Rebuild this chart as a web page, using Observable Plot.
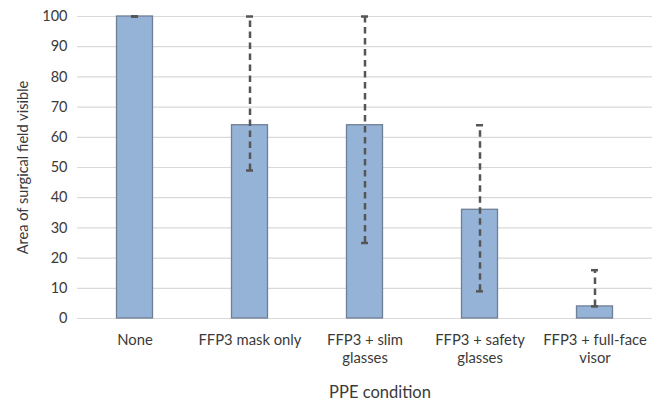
<!DOCTYPE html>
<html>
<head>
<meta charset="utf-8">
<script src="https://cdn.jsdelivr.net/npm/d3@7"></script>
<script src="https://cdn.jsdelivr.net/npm/@observablehq/plot@0.6"></script>
<style>
  html, body { margin: 0; padding: 0; background: #fff; }
  #chart svg { display: block; }
  #chart g[aria-label="y-axis label"] text { font-size: 14.6px; }
  #chart g[aria-label="x-axis label"] text { font-size: 16.5px; }
</style>
</head>
<body>
<div id="chart"></div>
<script>
const categories = ["None", "FFP3 mask only", "FFP3 + slim\nglasses", "FFP3 + safety\nglasses", "FFP3 + full-face\nvisor"];
const values = [100, 64, 64, 36, 4];
const lower = [100, 49, 25, 9, 4];
const upper = [100, 100, 100, 64, 16];
const yTicks = [0, 10, 20, 30, 40, 50, 60, 70, 80, 90, 100];

const data = categories.map((c, i) => ({cat: c, v: values[i], lo: lower[i], hi: upper[i]}));

const chart = Plot.plot({
  width: 654,
  height: 403,
  marginTop: 16,
  marginBottom: 85,
  marginLeft: 77,
  marginRight: 2,
  style: {fontFamily: "Lato, 'Open Sans', sans-serif", fontSize: "14.5px", color: "#3a3a3a", background: "#fff"},
  x: {domain: categories, padding: 0},
  y: {domain: [0, 100]},
  marks: [
    Plot.gridY(yTicks, {stroke: "#d9d9d9", strokeOpacity: 1, strokeWidth: 1.2}),
    Plot.barY(data, {x: "cat", y: "v", fill: "#95b3d7", stroke: "#6f7f95", strokeWidth: 1.3, insetLeft: 39.5, insetRight: 39.5}),
    Plot.ruleX(data, {x: "cat", y1: "lo", y2: "hi", stroke: "#555", strokeWidth: 2.5, strokeDasharray: "6.5,4.5"}),
    Plot.tickY(data, {x: "cat", y: "hi", stroke: "#555", strokeWidth: 2.5, insetLeft: 54, insetRight: 54}),
    Plot.tickY(data, {x: "cat", y: "lo", stroke: "#555", strokeWidth: 2.5, insetLeft: 54, insetRight: 54}),
    Plot.axisY(yTicks, {tickSize: 0, tickPadding: 10, label: "Area of surgical field visible", labelAnchor: "center", labelOffset: 55, labelArrow: false, fontSize: 14.5}),
    Plot.axisX({tickSize: 0, tickPadding: 14, label: "PPE condition", labelAnchor: "center", labelOffset: 79, labelArrow: false, fontSize: 14.8, lineHeight: 1.2})
  ]
});
function shift(sel, dx, dy) {
  const g = chart.querySelector(sel);
  if (g) g.setAttribute("transform", `translate(${dx},${dy}) ` + (g.getAttribute("transform") || ""));
}
shift('g[aria-label="y-axis label"]', -5, 0);
shift('g[aria-label="x-axis label"]', 15, 0);
document.getElementById("chart").appendChild(chart);
</script>
</body>
</html>
